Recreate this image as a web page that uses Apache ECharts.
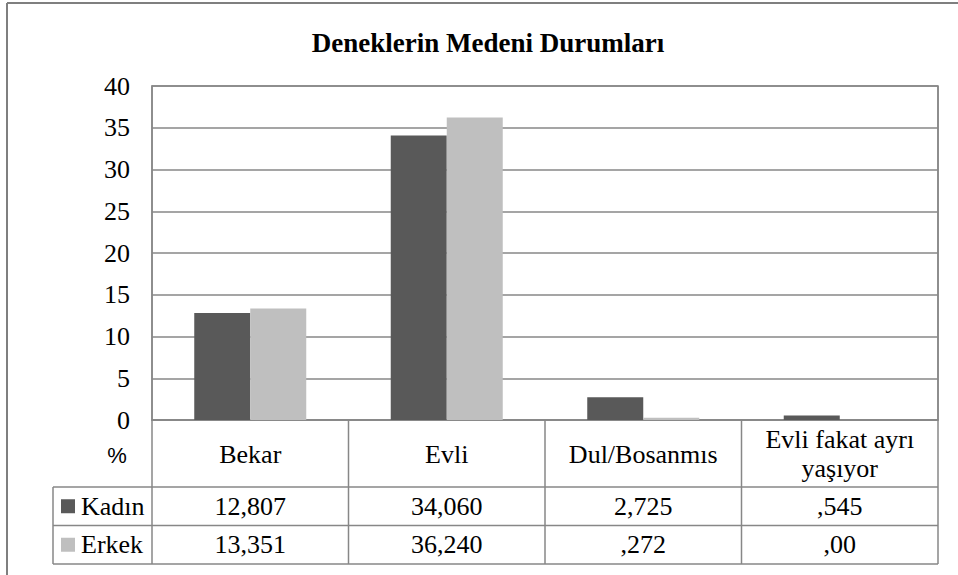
<!DOCTYPE html>
<html>
<head>
<meta charset="utf-8">
<script src="https://cdn.jsdelivr.net/npm/echarts@6/dist/echarts.min.js"></script>
<style>
  body { margin: 0; background: #fff; }
  #chart { width: 958px; height: 575px; }
</style>
</head>
<body>
<div id="chart"></div>
<script>
// data
const categories = ['Bekar', 'Evli', 'Dul/Bosanmıs', 'Evli fakat ayrı\nyaşıyor'];
const seriesNames = ['Kadın', 'Erkek'];
const kadin = [12.807, 34.060, 2.725, 0.545];
const erkek = [13.351, 36.240, 0.272, 0.00];
const kadinText = ['12,807', '34,060', '2,725', ',545'];
const erkekText = ['13,351', '36,240', ',272', ',00'];
const yMin = 0, yMax = 40, yStep = 5;

const colors = ['#595959', '#bfbfbf'];
const lineColor = '#878787';
const serif = 'Liberation Serif';

let chart = echarts.init(document.getElementById('chart'), null, { renderer: 'svg' });

let option = {
  animation: false,
  color: colors,
  grid: { left: 152, right: 20, top: 86, bottom: 155, show: true, borderColor: lineColor, borderWidth: 1.5 },
  xAxis: {
    type: 'category',
    data: categories,
    axisLine: { show: true, lineStyle: { color: lineColor, width: 1.5 } },
    axisTick: { show: false },
    axisLabel: {
      interval: 0, margin: 34, verticalAlign: 'middle',
      fontFamily: serif, fontSize: 26, lineHeight: 29, color: '#000'
    }
  },
  yAxis: {
    type: 'value', min: yMin, max: yMax, interval: yStep,
    axisLine: { show: true, lineStyle: { color: lineColor, width: 1.5 } },
    axisTick: { show: false },
    splitLine: { lineStyle: { color: lineColor, width: 1.5 } },
    axisLabel: { margin: 22, fontFamily: serif, fontSize: 26, color: '#000' }
  },
  series: [
    { name: seriesNames[0], type: 'bar', data: kadin, barGap: '0%', barCategoryGap: '43%' },
    { name: seriesNames[1], type: 'bar', data: erkek, barGap: '0%', barCategoryGap: '43%' }
  ]
};
chart.setOption(option);

// data table under the plot, placed from the axis scales
let y0 = chart.convertToPixel({ yAxisIndex: 0 }, 0);
let yTop = chart.convertToPixel({ yAxisIndex: 0 }, yMax);
let centers = categories.map((c, i) => chart.convertToPixel({ xAxisIndex: 0 }, i));
let cw = centers[1] - centers[0];
let xs = [centers[0] - cw / 2].concat(centers.map(c => c + cw / 2));
let headerH = 67, rowH = 38.5, labelLeft = 53;
let r1 = y0 + headerH, r2 = r1 + rowH, r3 = r2 + rowH;

let g = [];
function line(x1, y1, x2, y2, color, w) {
  g.push({ type: 'line', shape: { x1, y1, x2, y2 }, style: { stroke: color || lineColor, lineWidth: w || 1.5 }, silent: true });
}
function text(str, x, y, align, font, size, weight) {
  g.push({ type: 'text', x, y, silent: true,
    style: { text: str, fill: '#000', align: align, verticalAlign: 'middle',
      fontFamily: font || serif, fontSize: size || 26, fontWeight: weight || 'normal' } });
}

// outer frame
line(7, 3, 7, 575, '#7f7f7f', 2);
line(7, 3, 958, 3, '#7f7f7f', 2);

// title
text('Deneklerin Medeni Durumları', 488, 43, 'center', serif, 27, 'bold');

// table grid
xs.forEach(x => line(x, y0, x, r3));
line(xs[4], yTop, xs[4], y0);
line(labelLeft, r1, xs[4], r1);
line(labelLeft, r2, xs[4], r2);
line(labelLeft, r3, xs[4], r3);
line(labelLeft, r1, labelLeft, r3);

text('%', 117, y0 + 35, 'center', 'Liberation Sans', 22);

[[kadinText, r1], [erkekText, r2]].forEach((row, k) => {
  let cy = row[1] + rowH / 2;
  g.push({ type: 'rect', shape: { x: 61, y: cy - 7, width: 14, height: 14 }, style: { fill: colors[k] }, silent: true });
  text(seriesNames[k], 81, cy, 'left');
  row[0].forEach((v, i) => text(v, centers[i], cy, 'center'));
});

chart.setOption({ graphic: g });
</script>
</body>
</html>
